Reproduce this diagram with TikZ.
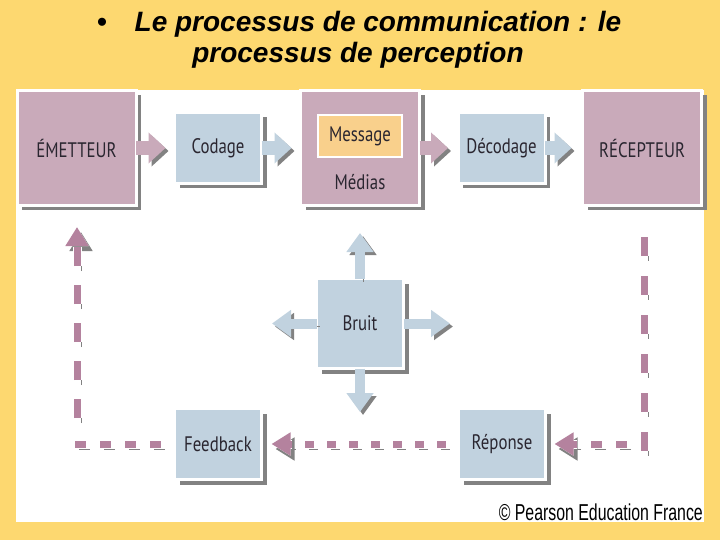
\documentclass[tikz,border=0pt]{standalone}
\usepackage{fontspec}
\setmainfont{Liberation Sans}
\newfontfamily\boxfont[FakeStretch=0.8]{PT Sans}
\newfontfamily\copyfont[FakeStretch=0.69]{Liberation Sans}
\usetikzlibrary{arrows.meta,shadows}
\definecolor{fond}{RGB}{253,216,112}
\definecolor{mauve}{RGB}{201,170,186}
\definecolor{mauvefonce}{RGB}{180,130,158}
\definecolor{bleu}{RGB}{193,210,223}
\definecolor{orange}{RGB}{249,208,140}
\definecolor{ombre}{RGB}{130,130,130}
\definecolor{encre}{RGB}{42,38,48}
\tikzset{
  boite/.style={draw=white, line width=3pt, outer sep=0pt, inner sep=0pt, text=encre, font=\boxfont\fontsize{21}{24}\selectfont,
    drop shadow={shadow xshift=5pt, shadow yshift=-5pt, fill=ombre, opacity=1}},
  boitemauve/.style={boite, fill=mauve, minimum width=119pt, minimum height=115pt},
  boitebleue/.style={boite, fill=bleu, minimum width=87pt, minimum height=71pt},
  ombrage/.style={preaction={draw=ombre, transform canvas={shift={(3pt,-3pt)}}}},
  grosse/.style={ombrage, line width=14pt, -{Triangle[width=30pt,length=17pt]}},
  moyenne/.style={ombrage, draw=bleu, line width=10pt, -{Triangle[width=26pt,length=19pt]}},
  pointille/.style n args={2}{
    preaction={draw=ombre, dash pattern=#1, dash phase=#2, transform canvas={shift={(4pt,-5pt)}}},
    preaction={draw=white, line width=9pt, dash pattern=#1, dash phase=#2},
    draw=mauvefonce, line width=7pt, dash pattern=#1, dash phase=#2},
  fleche/.style={-{Triangle[width=22pt,length=19pt]}}
}
\begin{document}
\begin{tikzpicture}[x=1pt,y=-1pt]
  \useasboundingbox (0,0) rectangle (720,540);
  \fill[fond] (0,0) rectangle (720,540);
  \fill[white] (16,90) rectangle (704,522);
  % titre
  \node[font=\bfseries\itshape\fontsize{28}{32}\selectfont, anchor=base] (titre1) at (359,32) {\textbullet\quad Le processus de communication : le};
  \node[font=\bfseries\itshape\fontsize{28}{32}\selectfont, anchor=base] (titre2) at (358,63) {processus de perception};

  % chaine du haut
  \node[boitemauve] (emetteur) at (76.5,148) {ÉMETTEUR};
  \node[boitebleue] (codage) at (218,148) {Codage};
  \node[boitemauve] (medias) at (360,148) {};
  \node[draw=white, line width=2.5pt, fill=orange, minimum width=84pt, minimum height=42pt, text=encre, font=\boxfont\fontsize{21}{24}\selectfont] (message) at (360,136) {Message};
  \node[text=encre, font=\boxfont\fontsize{21}{24}\selectfont] (mediastxt) at (360,182) {Médias};
  \node[boitebleue] (decodage) at (501.5,148) {Décodage};
  \node[boitemauve] (recepteur) at (642,148) {RÉCEPTEUR};

  \draw[grosse, draw=mauve, shorten >=9pt] (emetteur) -- (codage);
  \draw[grosse, draw=bleu, shorten >=9pt] (codage) -- (medias);
  \draw[grosse, draw=mauve, shorten >=10pt] (medias) -- (decodage);
  \draw[grosse, draw=bleu, shorten >=11pt] (decodage) -- (recepteur);

  % bruit
  \node[boitebleue, minimum height=90pt] (bruit) at (360,323.5) {Bruit};
  \coordinate (bruitN) at (360,233); \coordinate (bruitS) at (360,412);
  \coordinate (bruitO) at (272,323.5); \coordinate (bruitE) at (450,323.5);
  \draw[moyenne] (bruit) -- (bruitN); \draw[moyenne] (bruit) -- (bruitS);
  \draw[moyenne] (bruit) -- (bruitO); \draw[moyenne] (bruit) -- (bruitE);

  % retour
  \node[boitebleue] (feedback) at (218,444) {Feedback};
  \node[boitebleue] (reponse) at (502,444) {Réponse};
  \coordinate (recA) at (644,237); \coordinate (recB) at (644,452);
  \coordinate (coinD) at (641,444); \coordinate (coinG) at (73,444);
  \coordinate (gaucheB) at (77,418); \coordinate (gaucheH) at (77,227);
  \draw[pointille={on 19pt off 20pt}{0pt}] (recA) -- (recB);
  \draw[pointille={on 11pt off 14pt}{11pt}, fleche, shorten >=9pt] (coinD) -- (reponse);
  \draw[pointille={on 9pt off 13pt}{9pt}, fleche, shorten >=10pt] (reponse) -- (feedback);
  \draw[pointille={on 11pt off 14pt}{11pt}] (feedback) -- (coinG);
  \draw[pointille={on 19pt off 19pt}{0pt}, fleche] (gaucheB) -- (gaucheH);

  \node[font=\copyfont\fontsize{23}{26}\selectfont, anchor=base east, inner sep=0pt] (copyright) at (703,520) {© Pearson Education France};
\end{tikzpicture}
\end{document}
